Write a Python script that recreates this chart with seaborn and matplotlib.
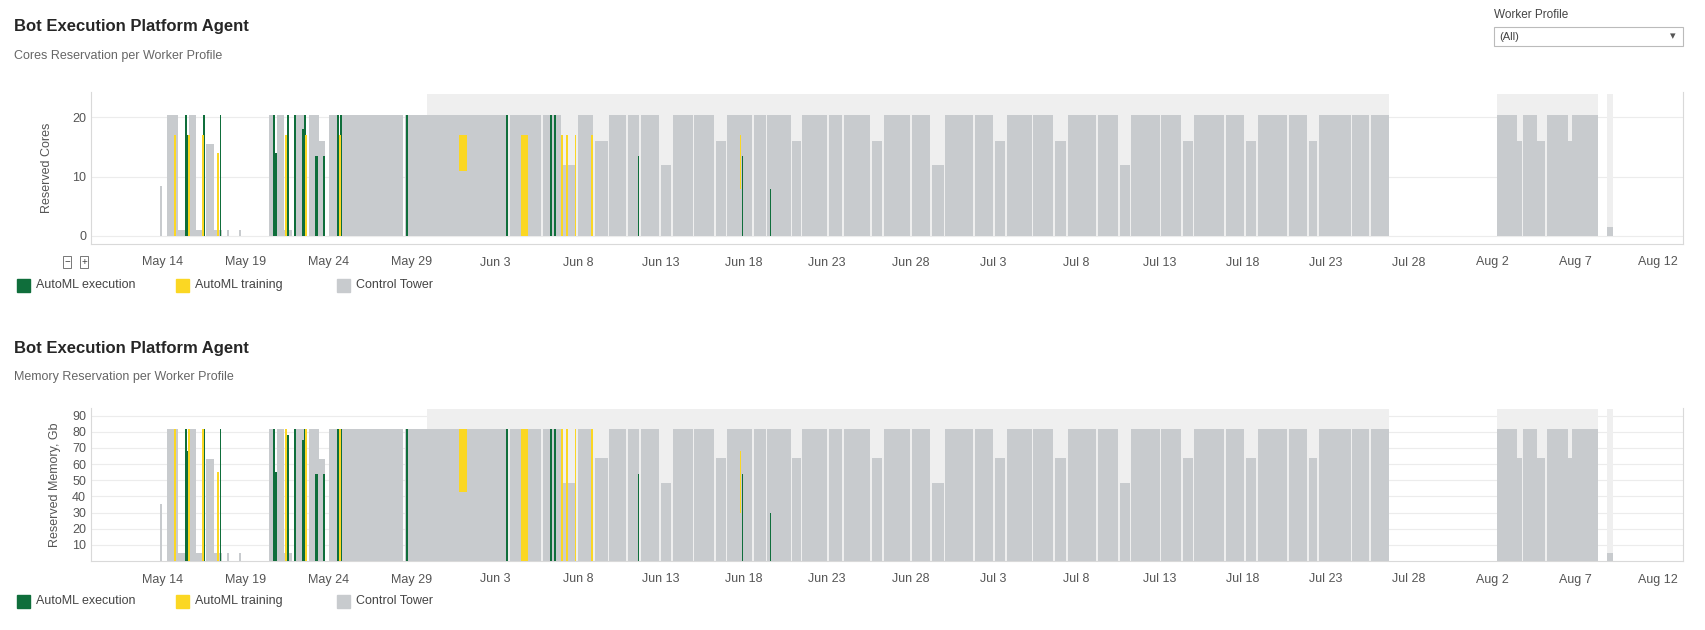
import matplotlib.pyplot as plt
import matplotlib.patches as mpatches
import seaborn as sns

# days are counted from May 14
tick_days = [0, 5, 10, 15, 20, 25, 30, 35, 40, 45, 50, 55, 60, 65, 70, 75, 80, 85, 90]
tick_labels = ['May 14', 'May 19', 'May 24', 'May 29', 'Jun 3', 'Jun 8', 'Jun 13', 'Jun 18',
               'Jun 23', 'Jun 28', 'Jul 3', 'Jul 8', 'Jul 13', 'Jul 18', 'Jul 23', 'Jul 28',
               'Aug 2', 'Aug 7', 'Aug 12']

# (start day, end day, cores, memory Gb)
control_tower = [
    (-0.15, -0.05, 8.5, 35), (0.26, 0.92, 20.5, 82), (0.92, 1.4, 1, 5), (1.6, 2.0, 20.5, 82),
    (2.0, 2.5, 1, 5), (2.6, 3.1, 15.5, 63), (3.1, 3.6, 1, 5), (3.9, 4.0, 1, 5), (4.6, 4.7, 1, 5),
    (6.4, 6.8, 20.5, 82), (6.9, 7.3, 20.5, 82), (7.3, 7.8, 1, 5), (8.0, 8.6, 20.5, 82),
    (8.8, 9.4, 20.5, 82), (9.4, 9.8, 16, 63), (10.0, 10.5, 20.5, 82), (10.7, 14.5, 20.5, 82),
    (14.6, 14.7, 20.5, 82), (14.8, 20.7, 20.5, 82), (20.9, 22.8, 20.5, 82), (22.9, 24.0, 20.5, 82),
    (24.0, 24.9, 12, 48), (25.0, 25.9, 20.5, 82), (26.0, 26.8, 16, 64), (26.9, 27.9, 20.5, 82),
    (28.0, 28.7, 20.5, 82), (28.8, 29.9, 20.5, 82), (30.0, 30.6, 12, 48), (30.7, 31.9, 20.5, 82),
    (32.0, 33.2, 20.5, 82), (33.3, 33.9, 16, 64), (34.0, 35.5, 20.5, 82), (35.6, 36.3, 20.5, 82),
    (36.4, 37.8, 20.5, 82), (37.9, 38.4, 16, 64), (38.5, 40.0, 20.5, 82), (40.1, 40.9, 20.5, 82),
    (41.0, 42.6, 20.5, 82), (42.7, 43.3, 16, 64), (43.4, 45.0, 20.5, 82), (45.1, 46.2, 20.5, 82),
    (46.3, 47.0, 12, 48), (47.1, 48.8, 20.5, 82), (48.9, 50.0, 20.5, 82), (50.1, 50.7, 16, 64),
    (50.8, 52.3, 20.5, 82), (52.4, 53.6, 20.5, 82), (53.7, 54.4, 16, 64), (54.5, 56.2, 20.5, 82),
    (56.3, 57.5, 20.5, 82), (57.6, 58.2, 12, 48), (58.3, 60.0, 20.5, 82), (60.1, 61.3, 20.5, 82),
    (61.4, 62.0, 16, 64), (62.1, 63.9, 20.5, 82), (64.0, 65.1, 20.5, 82), (65.2, 65.8, 16, 64),
    (65.9, 67.7, 20.5, 82), (67.8, 68.9, 20.5, 82), (69.0, 69.5, 16, 64), (69.6, 71.5, 20.5, 82),
    (71.6, 72.6, 20.5, 82), (72.7, 73.8, 20.5, 82),
    (80.3, 81.5, 20.5, 82), (81.5, 81.8, 16, 64), (81.9, 82.7, 20.5, 82), (82.7, 83.2, 16, 64),
    (83.3, 84.6, 20.5, 82), (84.6, 84.8, 16, 64), (84.8, 86.4, 20.5, 82), (86.9, 87.3, 1.5, 5),
]
# light peaks band above the regular reservation (start, end)
peak_band = [(15.9, 73.8), (80.3, 86.4), (86.9, 87.3)]
peak_top = {'cores': 24.0, 'mem': 94.0}

# (day, width, cores, memory Gb)
automl_execution = [
    (1.35, 0.15, 20.5, 82), (1.5, 0.1, 17, 68), (2.45, 0.12, 20.5, 82), (3.45, 0.1, 20.5, 82),
    (6.65, 0.12, 20.5, 82), (6.8, 0.1, 14, 55), (7.5, 0.12, 20.5, 78), (7.9, 0.12, 20.5, 82),
    (8.4, 0.1, 18, 75), (8.5, 0.12, 20.5, 82), (9.2, 0.15, 13.5, 54), (9.65, 0.12, 13.5, 54),
    (10.5, 0.12, 20.5, 82), (10.7, 0.12, 20.5, 82), (14.65, 0.15, 20.5, 82), (20.65, 0.12, 20.5, 82),
    (23.35, 0.12, 20.5, 82), (23.55, 0.12, 20.5, 82), (28.6, 0.1, 13.5, 54), (34.85, 0.1, 13.5, 54),
    (36.55, 0.08, 8, 30),
]
# (day, width, bottom cores, top cores, bottom mem, top mem)
automl_training = [
    (0.7, 0.12, 0, 17, 0, 82), (1.55, 0.12, 0, 17, 0, 82), (2.35, 0.12, 0, 17, 0, 82),
    (3.3, 0.1, 0, 14, 0, 55), (7.4, 0.12, 0, 17, 0, 82), (8.6, 0.12, 0, 17, 0, 82),
    (10.6, 0.12, 0, 17, 0, 82), (17.85, 0.45, 11, 17, 43, 82), (21.6, 0.4, 0, 17, 0, 82),
    (24.0, 0.1, 0, 17, 0, 82), (24.3, 0.1, 0, 17, 0, 82), (24.8, 0.1, 0, 17, 0, 82),
    (25.8, 0.1, 0, 17, 0, 82), (34.75, 0.08, 8, 17, 30, 68),
]

GREEN = '#0f6e3b'
YELLOW = '#fbd723'
GRAY = '#c8cbce'
BAND = '#efefef'

sns.set_style('white')
plt.rcParams['font.family'] = ['Liberation Sans', 'DejaVu Sans']

fig = plt.figure(figsize=(17.06, 6.3), dpi=100)
W, H = 1706, 630


def draw_panel(ax, key):
    idx = 2 if key == 'cores' else 3
    for s, e in peak_band:
        ax.bar(s, peak_top[key], width=e - s, align='edge', color=BAND, lw=0, zorder=1)
    for seg in control_tower:
        ax.bar(seg[0], seg[idx], width=seg[1] - seg[0], align='edge', color=GRAY, lw=0, zorder=2)
    for d, w, c, m in automl_execution:
        ax.bar(d, c if key == 'cores' else m, width=w, align='edge', color=GREEN, lw=0, zorder=3)
    for d, w, cb, ct, mb, mt in automl_training:
        b, t = (cb, ct) if key == 'cores' else (mb, mt)
        ax.bar(d, t - b, bottom=b, width=w, align='edge', color=YELLOW, lw=0, zorder=3)
    ax.set_xlim(-4.3, 91.5)
    ax.set_xticks(tick_days)
    ax.set_xticklabels(tick_labels, fontsize=9, color='#555555')
    ax.tick_params(axis='x', length=3, color='#dddddd', pad=6)
    ax.tick_params(axis='y', labelsize=9, labelcolor='#555555', length=0)
    ax.grid(axis='y', color='#ececec', lw=0.8, zorder=0)
    ax.set_axisbelow(True)
    ax.spines['top'].set_visible(False)
    for sp in ['left', 'bottom', 'right']:
        ax.spines[sp].set_color('#d9d9d9')


ax1 = fig.add_axes([91 / W, 1 - 244 / H, (1683 - 91) / W, 152 / H])
draw_panel(ax1, 'cores')
ax1.set_ylim(-1.35, 24.3)
ax1.set_yticks([0, 10, 20])
ax1.set_ylabel('Reserved Cores', fontsize=9, color='#555555', labelpad=14)

ax2 = fig.add_axes([91 / W, 1 - 561 / H, (1683 - 91) / W, 153 / H])
draw_panel(ax2, 'mem')
ax2.set_ylim(0, 94.7)
ax2.set_yticks(range(10, 100, 10))
ax2.set_ylabel('Reserved Memory, Gb', fontsize=9, color='#555555', labelpad=8)

for ty, sub in [(27, 'Cores Reservation per Worker Profile'), (348, 'Memory Reservation per Worker Profile')]:
    fig.text(14 / W, 1 - ty / H, 'Bot Execution Platform Agent', fontsize=12, weight='bold', va='center')
    fig.text(14 / W, 1 - (ty + 29) / H, sub, fontsize=9, color='#666666', va='center')

for ly in [285, 601]:
    for lx, col, name in [(17, GREEN, 'AutoML execution'), (176, YELLOW, 'AutoML training'),
                          (337, GRAY, 'Control Tower')]:
        fig.patches.append(mpatches.Rectangle((lx / W, 1 - (ly + 7) / H), 13 / W, 13 / H,
                                              color=col, transform=fig.transFigure))
        fig.text((lx + 19) / W, 1 - ly / H, name, fontsize=9, color='#444444', va='center')

# zoom buttons
for bx, sym in [(67, '−'), (84, '+')]:
    fig.text(bx / W, 1 - 262 / H, sym, fontsize=7, ha='center', va='center', color='#444444',
             bbox=dict(boxstyle='square,pad=0.15', fc='white', ec='#777777', lw=0.7))

# filter control
fig.text(1494 / W, 1 - 15 / H, 'Worker Profile', fontsize=8.5, color='#444444', va='center')
fig.patches.append(mpatches.Rectangle((1494 / W, 1 - 46 / H), 189 / W, 19 / H, fc='white',
                                      ec='#bbbbbb', lw=0.8, transform=fig.transFigure))
fig.text(1499 / W, 1 - 37 / H, '(All)', fontsize=8, color='#444444', va='center')
fig.text(1670 / W, 1 - 36 / H, '▾', fontsize=8, color='#555555', va='center')

fig.savefig('out.png', dpi=100)
